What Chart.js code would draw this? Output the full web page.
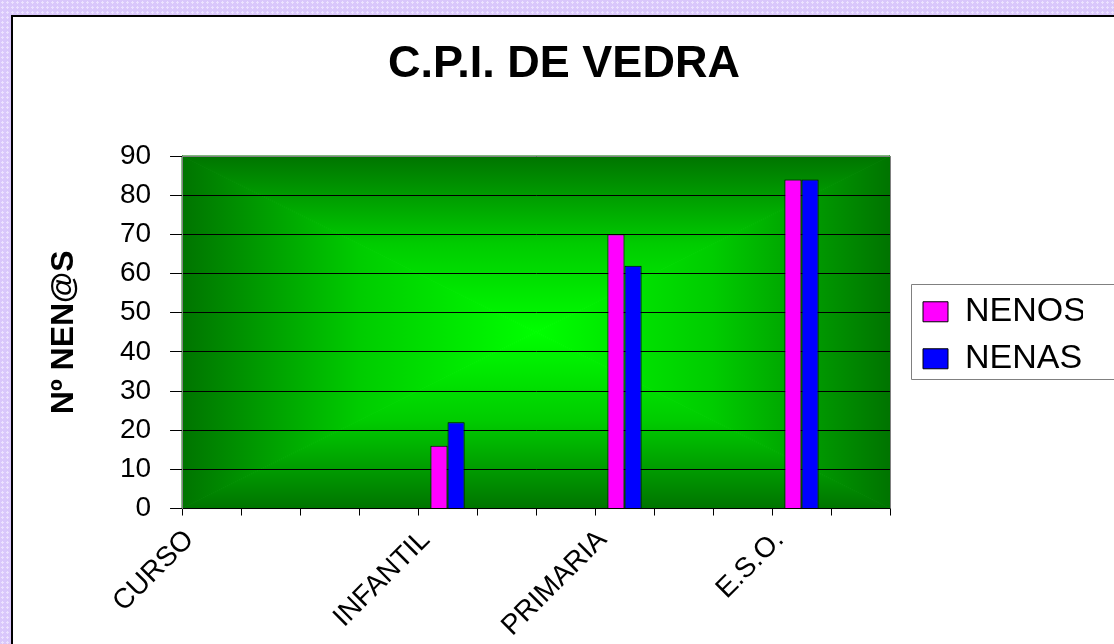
<!DOCTYPE html>
<html>
<head>
<meta charset="utf-8">
<title>C.P.I. DE VEDRA</title>
<script src="https://cdn.jsdelivr.net/npm/chart.js@4/dist/chart.umd.min.js"></script>
<style>
    html, body {
        margin: 0;
        padding: 0;
        width: 1114px;
        height: 644px;
        overflow: hidden;
    }
    body {
        background-color: #d9c7fb;
        background-image: radial-gradient(#ece2ff 1px, transparent 1.2px);
        background-size: 5px 5px;
    }
    #marco {
        position: absolute;
        left: 11px;
        top: 15px;
        border-left: 2px solid #000;
        border-top: 2px solid #000;
        background: #fff;
    }
    #grafico {
        display: block;
    }
</style>
</head>
<body>
<div id="marco">
    <canvas id="grafico" width="1110" height="640"></canvas>
</div>
<script>
// datos
const cursos = ["CURSO", "", "", "", "INFANTIL", "", "", "PRIMARIA", "", "", "E.S.O.", ""];
const nenos = [null, null, null, null, 16, null, null, 70, null, null, 84, null];
const nenas = [null, null, null, null, 22, null, null, 62, null, null, 84, null];
const yMin = 0;
const yMax = 90;
const yPaso = 10;

const fuente = "'Liberation Sans', Arial, sans-serif";

// fondo verde degradado desde el centro (4 triángulos)
const fondoVerde = {
    id: "fondoVerde",
    beforeDraw(chart) {
        const ctx = chart.ctx;
        const a = chart.chartArea;
        ctx.save();
        ctx.fillStyle = "#fff";
        ctx.fillRect(0, 0, chart.width, chart.height);
        const cx = (a.left + a.right) / 2;
        const cy = (a.top + a.bottom) / 2;
        const lados = [
            [[a.left, a.top], [a.right, a.top], cx, a.top],
            [[a.right, a.top], [a.right, a.bottom], a.right, cy],
            [[a.right, a.bottom], [a.left, a.bottom], cx, a.bottom],
            [[a.left, a.bottom], [a.left, a.top], a.left, cy]
        ];
        lados.forEach(l => {
            const g = ctx.createLinearGradient(cx, cy, l[2], l[3]);
            g.addColorStop(0, "#00ff00");
            g.addColorStop(0.5, "#00cc00");
            g.addColorStop(1, "#007400");
            ctx.beginPath();
            ctx.moveTo(cx, cy);
            ctx.lineTo(l[0][0], l[0][1]);
            ctx.lineTo(l[1][0], l[1][1]);
            ctx.closePath();
            ctx.fillStyle = g;
            ctx.strokeStyle = g;
            ctx.lineWidth = 1;
            ctx.fill();
            ctx.stroke();
        });
        ctx.restore();
    },
    afterDraw(chart) {
        const ctx = chart.ctx;
        const a = chart.chartArea;
        ctx.save();
        // borde gris del área de trazado (arriba y derecha)
        ctx.strokeStyle = "#808080";
        ctx.lineWidth = 1;
        ctx.beginPath();
        ctx.moveTo(a.left, a.top + 0.5);
        ctx.lineTo(a.right + 0.5, a.top + 0.5);
        ctx.lineTo(a.right + 0.5, a.bottom);
        ctx.stroke();
        // marco de la leyenda
        const hb = chart.legend.legendHitBoxes;
        if (hb && hb.length) {
            const izq = Math.round(hb[0].left - 12) + 0.5;
            const arr = Math.round(hb[0].top + 17 - 28) + 0.5;
            const aba = Math.round(hb[hb.length - 1].top + 17 + 20) + 0.5;
            ctx.beginPath();
            ctx.moveTo(chart.width + 2, arr);
            ctx.lineTo(izq, arr);
            ctx.lineTo(izq, aba);
            ctx.lineTo(chart.width + 2, aba);
            ctx.stroke();
        }
        ctx.restore();
    }
};

new Chart(document.getElementById("grafico"), {
    type: "bar",
    data: {
        labels: cursos,
        datasets: [
            {
                label: "NENOS",
                data: nenos,
                backgroundColor: "#ff00ff",
                borderColor: "#000",
                borderWidth: 1
            },
            {
                label: "NENAS",
                data: nenas,
                backgroundColor: "#0000ff",
                borderColor: "#000",
                borderWidth: 1
            }
        ]
    },
    options: {
        responsive: false,
        animation: false,
        categoryPercentage: 0.58,
        barPercentage: 1.0,
        layout: {
            padding: { left: 32, right: 40, top: 0, bottom: 6 }
        },
        plugins: {
            title: {
                display: true,
                text: "C.P.I. DE VEDRA",
                color: "#000",
                font: { family: fuente, size: 45, weight: "bold" },
                padding: { top: 21, bottom: 64 }
            },
            legend: {
                position: "right",
                fullSize: false,
                title: { display: true, text: "", padding: 0, font: { size: 5 } },
                labels: {
                    color: "#000",
                    boxWidth: 25,
                    boxHeight: 20,
                    padding: 13,
                    font: { family: fuente, size: 34 }
                }
            },
            tooltip: { enabled: false }
        },
        scales: {
            x: {
                grid: {
                    display: true,
                    drawOnChartArea: false,
                    color: "#000",
                    tickLength: 7
                },
                border: { color: "#000", width: 1 },
                ticks: {
                    color: "#000",
                    autoSkip: false,
                    minRotation: 45,
                    maxRotation: 45,
                    padding: 8,
                    labelOffset: -22,
                    font: { family: fuente, size: 28 }
                }
            },
            y: {
                min: yMin,
                max: yMax,
                grid: {
                    color: "#000",
                    tickLength: 12
                },
                border: { color: "#808080", width: 1 },
                ticks: {
                    stepSize: yPaso,
                    color: "#000",
                    padding: 19,
                    font: { family: fuente, size: 28 }
                },
                title: {
                    display: true,
                    text: "Nº NEN@S",
                    color: "#000",
                    font: { family: fuente, size: 32, weight: "bold" },
                    padding: { top: 0, bottom: 17.5 }
                }
            },
            y2: {
                position: "right",
                display: true,
                grid: { display: false },
                border: { display: false },
                ticks: { display: false },
                afterFit(escala) {
                    escala.width = 20;
                }
            }
        }
    },
    plugins: [fondoVerde]
});
</script>
</body>
</html>
